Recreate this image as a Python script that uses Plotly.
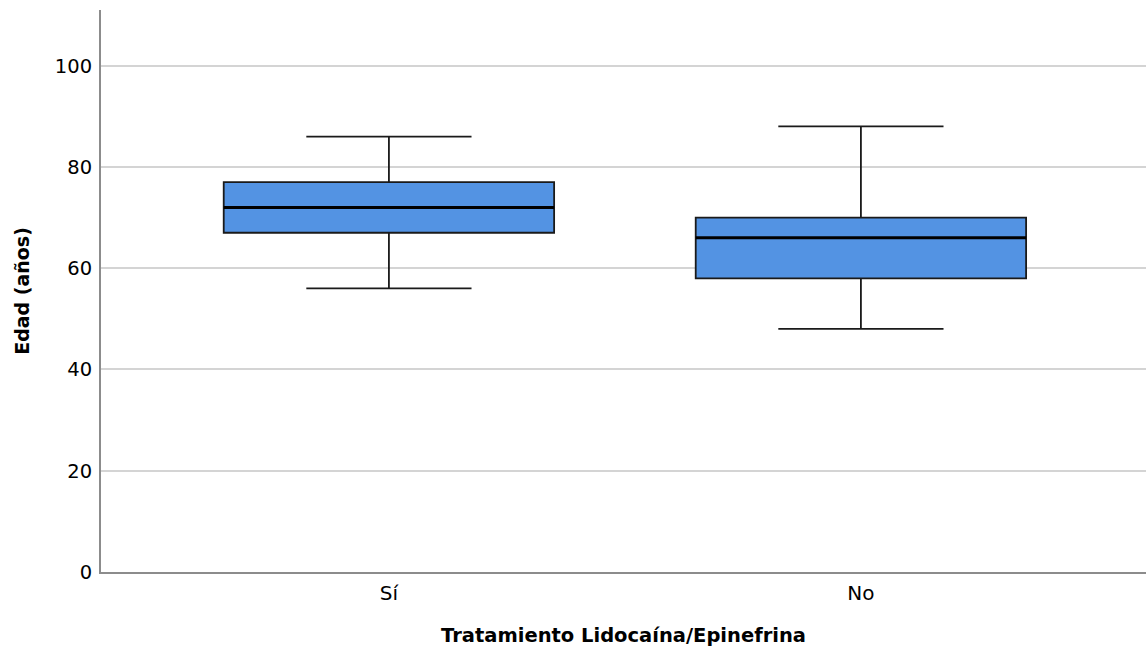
import plotly.graph_objects as go

categories = ["Sí", "No"]
lower_whisker = [56, 48]
q1 = [67, 58]
median = [72, 66]
q3 = [77, 70]
upper_whisker = [86, 88]
y_ticks = [0, 20, 40, 60, 80, 100]

FONT = "DejaVu Sans"
box_w = 0.7

fig = go.Figure()
xpos = list(range(len(categories)))
fig.add_trace(go.Box(
    x=xpos, q1=q1, median=median, q3=q3,
    lowerfence=lower_whisker, upperfence=upper_whisker,
    width=box_w, whiskerwidth=0.5,
    fillcolor="#5393e3",
    line=dict(color="#1a1a1a", width=1.8),
    boxpoints=False, showlegend=False, hoverinfo="skip",
))
for i, m in zip(xpos, median):
    fig.add_trace(go.Scatter(
        x=[i - box_w / 2, i + box_w / 2], y=[m, m], mode="lines",
        line=dict(color="black", width=3), showlegend=False, hoverinfo="skip",
    ))

fig.update_layout(
    width=1146, height=655,
    margin=dict(l=101, r=0, t=10, b=83),
    paper_bgcolor="white", plot_bgcolor="white",
    font=dict(family=FONT, color="black"),
    xaxis=dict(
        range=[-0.61, 1.604], tickvals=xpos, ticktext=categories,
        showgrid=False, zeroline=False, showline=True, linecolor="#8c8c8c", linewidth=2,
        ticks="", tickfont=dict(size=20, family=FONT), ticklabelstandoff=2,
        title=dict(text="<b>Tratamiento Lidocaína/Epinefrina</b>", font=dict(size=19.5, family=FONT), standoff=24),
    ),
    yaxis=dict(
        range=[0, 111], tickvals=y_ticks,
        showgrid=True, gridcolor="#d4d4d4", gridwidth=1.5,
        zeroline=False, showline=True, linecolor="#8c8c8c", linewidth=2,
        ticks="", tickfont=dict(size=19.5, family=FONT), ticklabelstandoff=3,
        title=dict(text="<b>Edad (años)</b>", font=dict(size=19, family=FONT), standoff=20),
    ),
)
fig.write_html("out.html")
